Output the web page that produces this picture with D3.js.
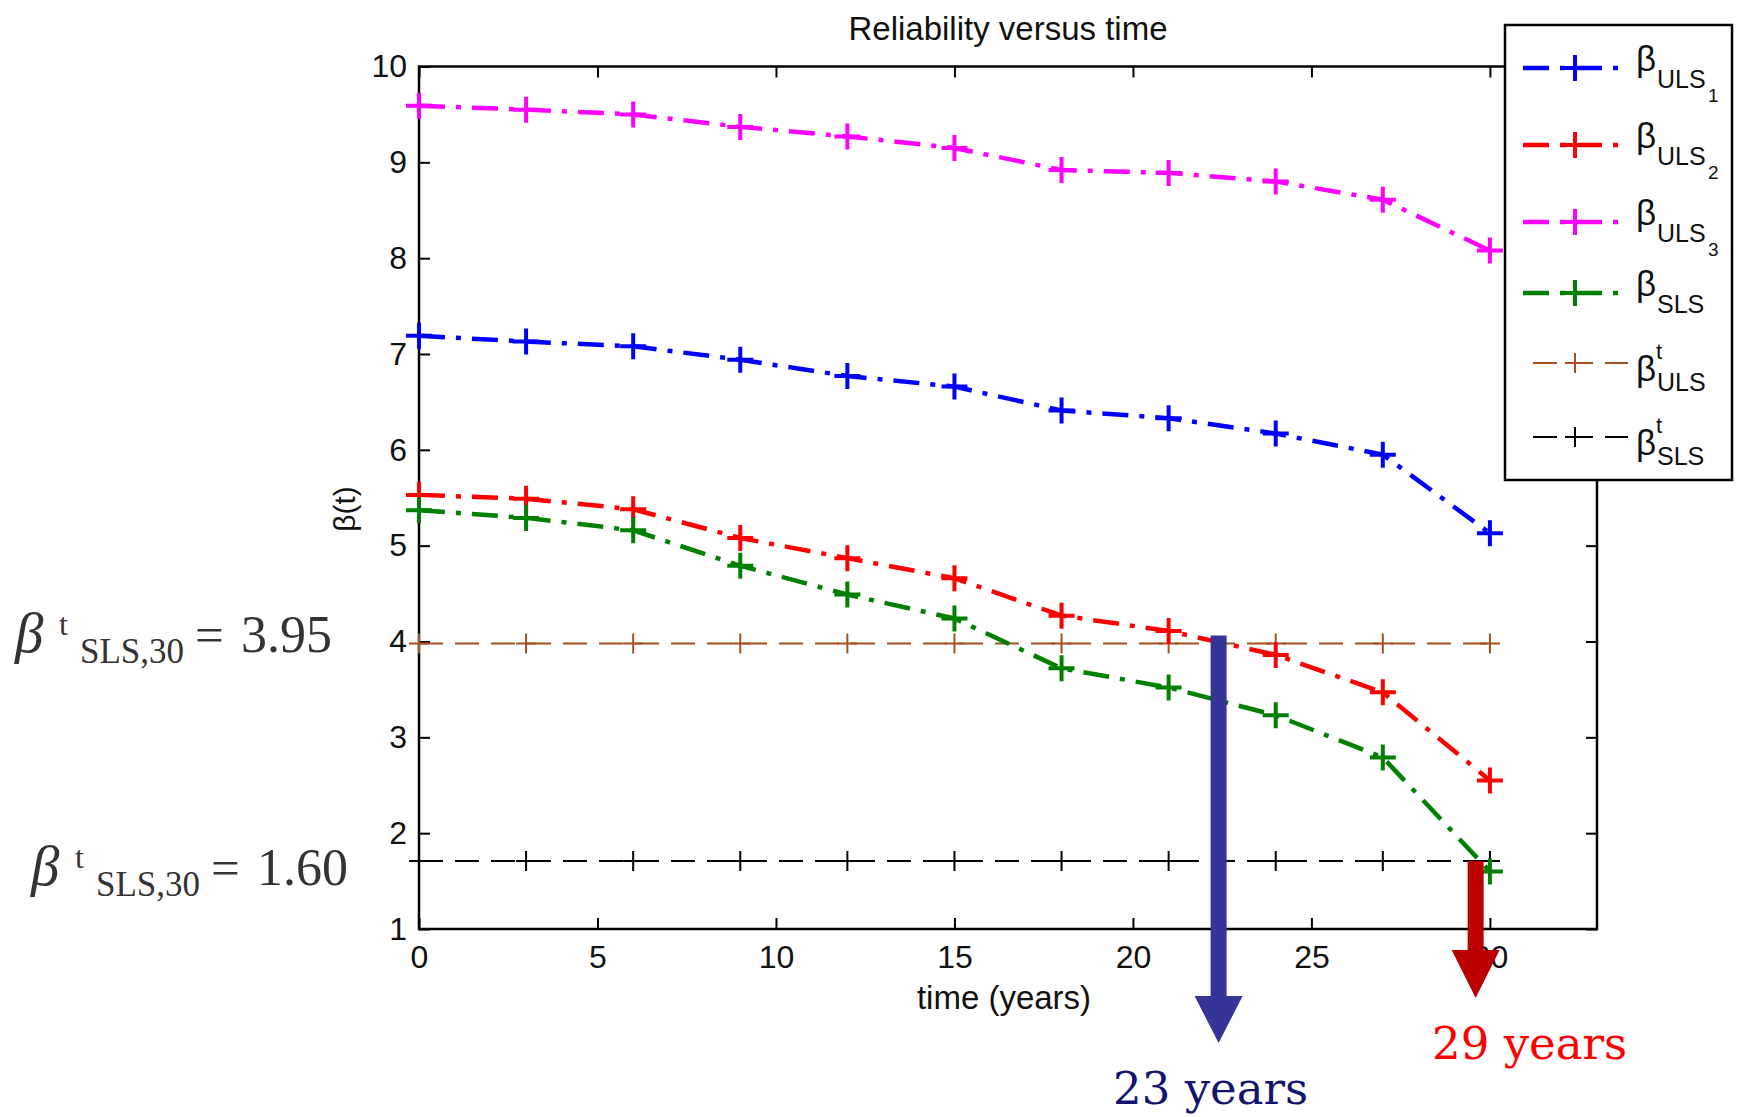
<!DOCTYPE html>
<html>
<head>
<meta charset="utf-8">
<script src="https://cdn.jsdelivr.net/npm/d3@7"></script>
<style>
  body { margin: 0; background: #fff; }
  svg { display: block; }
</style>
</head>
<body>
<div id="chart"></div>
<script>
// 데이터
const years = [0, 3, 6, 9, 12, 15, 18, 21, 24, 27, 30];
const betaULS1 = [7.19, 7.13, 7.08, 6.94, 6.77, 6.66, 6.41, 6.33, 6.17, 5.95, 5.13];
const betaULS2 = [5.53, 5.49, 5.38, 5.08, 4.87, 4.66, 4.27, 4.11, 3.86, 3.47, 2.55];
const betaULS3 = [9.59, 9.55, 9.50, 9.37, 9.27, 9.15, 8.92, 8.89, 8.80, 8.61, 8.08];
const betaSLS  = [5.37, 5.29, 5.16, 4.79, 4.49, 4.24, 3.72, 3.52, 3.23, 2.79, 1.60];
const targetULS = [3.98, 3.98, 3.98, 3.98, 3.98, 3.98, 3.98, 3.98, 3.98, 3.98, 3.98];
const targetSLS = [1.71, 1.71, 1.71, 1.71, 1.71, 1.71, 1.71, 1.71, 1.71, 1.71, 1.71];

const xTicks = [0, 5, 10, 15, 20, 25, 30];
const yTicks = [1, 2, 3, 4, 5, 6, 7, 8, 9, 10];

const crossingYears = [22.4, 29.6];
const crossingLabels = ["23 years", "29 years"];

const W = 1738, H = 1117;
const pLeft = 419, pRight = 1597, pTop = 66.5, pBottom = 929;

const svg = d3.select("#chart").append("svg")
  .attr("width", W).attr("height", H)
  .attr("viewBox", [0, 0, W, H]);

svg.append("rect").attr("width", W).attr("height", H).attr("fill", "#fff");

const x = d3.scaleLinear().domain([0, 33]).range([pLeft, pRight]);
const y = d3.scaleLinear().domain([1, 10]).range([pBottom, pTop]);

const sans = "'Liberation Sans', Arial, sans-serif";
const serif = "'Liberation Serif', 'Times New Roman', serif";

// 시리즈 (스타일은 여기서 붙임)
const series = [
  {values: betaULS1, color: "#0000ff", kind: "main", base: "ULS", sub: "1"},
  {values: betaULS2, color: "#ff0000", kind: "main", base: "ULS", sub: "2"},
  {values: betaULS3, color: "#ff00ff", kind: "main", base: "ULS", sub: "3"},
  {values: betaSLS,  color: "#008000", kind: "main", base: "SLS", sub: null},
  {values: targetULS, color: "#a5511f", kind: "target", base: "ULS", sub: null},
  {values: targetSLS, color: "#000000", kind: "target", base: "SLS", sub: null}
];

const style = {
  main:   {width: 4.5, dash: "26,11,5,11", arm: 13, markWidth: 4},
  target: {width: 2, dash: "24,12", arm: 10, markWidth: 2}
};

// 축
const axisStyle = g => {
  g.select(".domain").remove();
  g.selectAll(".tick line").attr("stroke", "#000").attr("stroke-width", 2);
  g.selectAll(".tick text").attr("font-family", sans).attr("font-size", 32).attr("fill", "#111");
};

svg.append("g").attr("transform", `translate(0,${pBottom})`)
  .call(d3.axisBottom(x).tickValues(xTicks).tickSizeInner(-11).tickSizeOuter(0).tickPadding(16))
  .call(axisStyle);
svg.append("g").attr("transform", `translate(0,${pTop})`)
  .call(d3.axisTop(x).tickValues(xTicks).tickSizeInner(-11).tickSizeOuter(0).tickFormat(""))
  .call(axisStyle);
svg.append("g").attr("transform", `translate(${pLeft},0)`)
  .call(d3.axisLeft(y).tickValues(yTicks).tickSizeInner(-11).tickSizeOuter(0).tickPadding(12))
  .call(axisStyle);
svg.append("g").attr("transform", `translate(${pRight},0)`)
  .call(d3.axisRight(y).tickValues(yTicks).tickSizeInner(-11).tickSizeOuter(0).tickFormat(""))
  .call(axisStyle);

svg.append("rect")
  .attr("x", pLeft).attr("y", pTop)
  .attr("width", pRight - pLeft).attr("height", pBottom - pTop)
  .attr("fill", "none").attr("stroke", "#000").attr("stroke-width", 2.5);

// 제목, 축 이름
svg.append("text")
  .attr("x", (pLeft + pRight) / 2).attr("y", 40)
  .attr("text-anchor", "middle")
  .attr("font-family", sans).attr("font-size", 33).attr("fill", "#111")
  .text("Reliability versus time");

svg.append("text")
  .attr("x", (pLeft + pRight) / 2 - 4).attr("y", 1009)
  .attr("text-anchor", "middle")
  .attr("font-family", sans).attr("font-size", 33).attr("fill", "#111")
  .text("time (years)");

svg.append("text")
  .attr("transform", `translate(355,509) rotate(-90)`)
  .attr("text-anchor", "middle")
  .attr("font-family", sans).attr("font-size", 30).attr("fill", "#111")
  .text("β(t)");

// 선 그리기
const line = d3.line().x((d, i) => x(years[i])).y(d => y(d));
const plus = (cx, cy, a) => `M${cx - a},${cy}H${cx + a}M${cx},${cy - a}V${cy + a}`;

const drawOrder = [4, 5, 0, 1, 2, 3];
drawOrder.forEach(k => {
  const s = series[k], st = style[s.kind];
  svg.append("path")
    .attr("d", line(s.values))
    .attr("fill", "none")
    .attr("stroke", s.color)
    .attr("stroke-width", st.width)
    .attr("stroke-dasharray", st.dash);
  svg.append("path")
    .attr("d", s.values.map((v, i) => plus(x(years[i]), y(v), st.arm)).join(""))
    .attr("stroke", s.color)
    .attr("stroke-width", st.markWidth)
    .attr("fill", "none");
});

// 화살표
const arrowSpec = [
  {fill: "#353597", from: y(targetULS[0]) - 8, headTop: 996, tip: 1043, label: "#141470", lx: -8, ly: 1104},
  {fill: "#bb0000", from: y(targetSLS[0]), headTop: 950, tip: 998, label: "#ff0000", lx: 54, ly: 1059}
];
crossingYears.forEach((yr, i) => {
  const a = arrowSpec[i], cx = x(yr);
  svg.append("path")
    .attr("d", `M${cx - 8},${a.from}H${cx + 8}V${a.headTop}H${cx + 24}L${cx},${a.tip}L${cx - 24},${a.headTop}H${cx - 8}Z`)
    .attr("fill", a.fill);
  svg.append("text")
    .attr("x", cx + a.lx).attr("y", a.ly)
    .attr("text-anchor", "middle")
    .attr("font-family", "'DejaVu Serif', Georgia, serif")
    .attr("font-size", 45)
    .attr("fill", a.label)
    .text(crossingLabels[i]);
});

// 왼쪽 주석
function betaNote(bx, base, value) {
  const t = svg.append("text").attr("font-family", serif).attr("fill", "#333");
  t.append("tspan").attr("x", bx - 2).attr("y", base).attr("font-size", 57).attr("font-style", "italic").text("β");
  t.append("tspan").attr("x", bx + 42).attr("y", base - 17).attr("font-size", 32).text("t");
  t.append("tspan").attr("x", bx + 63).attr("y", base + 11).attr("font-size", 35).text("SLS,30");
  t.append("tspan").attr("x", bx + 178).attr("y", base).attr("font-size", 51).text("=");
  t.append("tspan").attr("x", bx + 224).attr("y", base).attr("font-size", 52).text(value);
}
betaNote(17, 652, "3.95");
betaNote(33, 885, "1.60");

// 범례
const lg = svg.append("g");
lg.append("rect")
  .attr("x", 1505).attr("y", 25).attr("width", 227).attr("height", 455)
  .attr("fill", "#fff").attr("stroke", "#000").attr("stroke-width", 2.5);

const rowY = [68, 145, 222, 293, 363, 437];
series.forEach((s, i) => {
  const st = style[s.kind], yc = rowY[i];
  const x0 = s.kind === "main" ? 1523 : 1533;
  lg.append("line")
    .attr("x1", x0).attr("x2", 1628).attr("y1", yc).attr("y2", yc)
    .attr("stroke", s.color).attr("stroke-width", st.width)
    .attr("stroke-dasharray", st.dash);
  lg.append("path")
    .attr("d", plus(1575, yc, st.arm))
    .attr("stroke", s.color).attr("stroke-width", st.markWidth);

  const t = lg.append("text").attr("font-family", sans).attr("fill", "#111");
  if (s.kind === "main") {
    t.append("tspan").attr("x", 1636).attr("y", yc + 3).attr("font-size", 35).text("β");
    t.append("tspan").attr("x", 1657).attr("y", yc + 20).attr("font-size", 25).text(s.base);
    if (s.sub) t.append("tspan").attr("x", 1708).attr("y", yc + 34).attr("font-size", 19).text(s.sub);
  } else {
    t.append("tspan").attr("x", 1636).attr("y", yc + 18).attr("font-size", 35).text("β");
    t.append("tspan").attr("x", 1656).attr("y", yc - 4).attr("font-size", 22).text("t");
    t.append("tspan").attr("x", 1657).attr("y", yc + 28).attr("font-size", 25).text(s.base);
  }
});
</script>
</body>
</html>
